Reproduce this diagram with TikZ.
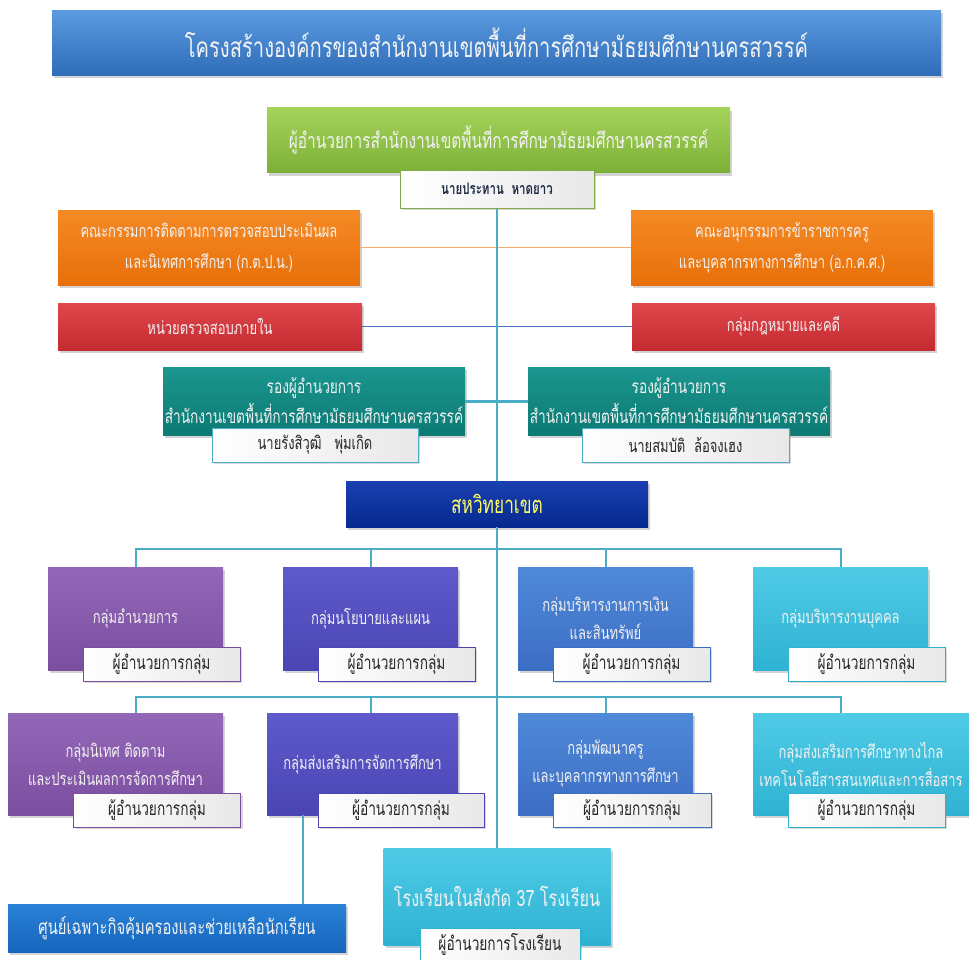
\documentclass[tikz,border=0pt]{standalone}
\usepackage{fontspec}
\usetikzlibrary{shadows}
\newfontfamily\thai[Script=Thai,FakeStretch=0.72]{Loma}
\definecolor{titleA}{HTML}{5B9BE0}\definecolor{titleB}{HTML}{2F6DB8}
\definecolor{greenA}{HTML}{A5D35A}\definecolor{greenB}{HTML}{7DB038}
\definecolor{orangeA}{HTML}{F58A25}\definecolor{orangeB}{HTML}{E8700A}
\definecolor{redA}{HTML}{E0474D}\definecolor{redB}{HTML}{C32B31}
\definecolor{tealA}{HTML}{1A968E}\definecolor{tealB}{HTML}{0D7A74}
\definecolor{navyA}{HTML}{1A3FB0}\definecolor{navyB}{HTML}{062A8F}
\definecolor{purpA}{HTML}{9468B8}\definecolor{purpB}{HTML}{7A4D9E}
\definecolor{indA}{HTML}{5E5ACB}\definecolor{indB}{HTML}{4A45B3}
\definecolor{bluA}{HTML}{5089D8}\definecolor{bluB}{HTML}{3C6EC4}
\definecolor{cyanA}{HTML}{4FCBE6}\definecolor{cyanB}{HTML}{2FB2D2}
\definecolor{deepA}{HTML}{2A82D6}\definecolor{deepB}{HTML}{1565BD}
\definecolor{linkc}{HTML}{4BACC6}
\definecolor{namec}{HTML}{1F2A44}

\begin{document}
\begin{tikzpicture}[x=1pt,y=-1pt]
    \tikzstyle{box}=[rectangle, inner sep=0pt, align=center, text=white!95!black,
                     drop shadow={shadow xshift=2pt, shadow yshift=-3pt, opacity=.35}]
    \tikzstyle{sub}=[rectangle, draw, line width=1pt, inner sep=0pt, align=center,
                     left color=white, right color=black!9, text=black!85,
                     minimum height=34, font=\thai\fontsize{19}{22}\selectfont,
                     drop shadow={shadow xshift=2pt, shadow yshift=-2pt, opacity=.3}]
    \tikzstyle{small}=[font=\thai\fontsize{18}{31}\selectfont]
    \tikzstyle{group}=[font=\thai\fontsize{18}{28}\selectfont]
    \tikzstyle{link}=[draw=linkc, line width=2pt]
    \useasboundingbox (0,0) rectangle (969,959);

    % top of the chart
    \node[box, top color=titleA, bottom color=titleB, minimum width=889, minimum height=65,
          font=\thai\fontsize{28}{32}\selectfont] (title) at (496.5,42.5)
          {โครงสร้างองค์กรของสำนักงานเขตพื้นที่การศึกษามัธยมศึกษานครสวรรค์};
    \node[box, top color=greenA, bottom color=greenB, minimum width=463, minimum height=65,
          font=\thai\fontsize{21.5}{24}\selectfont] (director) at (498.5,140)
          {ผู้อำนวยการสำนักงานเขตพื้นที่การศึกษามัธยมศึกษานครสวรรค์};
    \node[sub, draw=greenA!80!black, minimum width=194, minimum height=38, text=namec,
          font=\thai\bfseries\fontsize{16}{18}\selectfont] (dirname) at (497,189)
          {นายประทาน\ \ หาดยาว};

    % boards and units beside the director
    \node[box, small, top color=orangeA, bottom color=orangeB, minimum width=302, minimum height=75]
          (boardL) at (209,247.5) {คณะกรรมการติดตามการตรวจสอบประเมินผล\\และนิเทศการศึกษา (ก.ต.ป.น.)};
    \node[box, small, top color=orangeA, bottom color=orangeB, minimum width=302, minimum height=75]
          (boardR) at (782,247.5) {คณะอนุกรรมการข้าราชการครู\\และบุคลากรทางการศึกษา (อ.ก.ค.ศ.)};
    \node[box, small, top color=redA, bottom color=redB, minimum width=304, minimum height=47]
          (audit) at (210,326.5) {หน่วยตรวจสอบภายใน};
    \node[box, small, top color=redA, bottom color=redB, minimum width=303, minimum height=47]
          (legal) at (783.5,326.5) {กลุ่มกฎหมายและคดี};

    % deputies
    \node[box, top color=tealA, bottom color=tealB, minimum width=302, minimum height=68,
          font=\thai\fontsize{19}{30}\selectfont]
          (depL) at (314,401) {รองผู้อำนวยการ\\สำนักงานเขตพื้นที่การศึกษามัธยมศึกษานครสวรรค์};
    \node[box, top color=tealA, bottom color=tealB, minimum width=302, minimum height=68,
          font=\thai\fontsize{19}{30}\selectfont]
          (depR) at (679,401) {รองผู้อำนวยการ\\สำนักงานเขตพื้นที่การศึกษามัธยมศึกษานครสวรรค์};
    \node[sub, draw=linkc, minimum width=206, font=\thai\fontsize{18}{20}\selectfont]
          (nameL) at (315,445) {นายรังสิวุฒิ\ \ \ พุ่มเกิด};
    \node[sub, draw=linkc, minimum width=207, font=\thai\fontsize{18}{20}\selectfont]
          (nameR) at (685.5,445) {นายสมบัติ\ \ ล้อจงเฮง};

    \node[box, top color=navyA, bottom color=navyB, minimum width=302, minimum height=46,
          text={rgb,255:red,255;green,255;blue,102}, font=\thai\fontsize{24}{28}\selectfont]
          (cluster) at (497,504) {สหวิทยาเขต};

    % first row of groups
    \node[box, group, top color=purpA, bottom color=purpB, minimum width=175, minimum height=103]
          (r1a) at (135.5,618.5) {กลุ่มอำนวยการ};
    \node[box, group, top color=indA, bottom color=indB, minimum width=175, minimum height=103]
          (r1b) at (370.5,618.5) {กลุ่มนโยบายและแผน};
    \node[box, group, top color=bluA, bottom color=bluB, minimum width=175, minimum height=103]
          (r1c) at (605.5,618.5) {กลุ่มบริหารงานการเงิน\\และสินทรัพย์};
    \node[box, group, top color=cyanA, bottom color=cyanB, minimum width=175, minimum height=103]
          (r1d) at (840.5,618.5) {กลุ่มบริหารงานบุคคล};
    \node[sub, draw=purpB, minimum width=157] (s1a) at (161.5,664) {ผู้อำนวยการกลุ่ม};
    \node[sub, draw=indB, minimum width=157] (s1b) at (396.5,664) {ผู้อำนวยการกลุ่ม};
    \node[sub, draw=bluB, minimum width=157] (s1c) at (631.5,664) {ผู้อำนวยการกลุ่ม};
    \node[sub, draw=cyanB, minimum width=157] (s1d) at (866.5,664) {ผู้อำนวยการกลุ่ม};

    % second row of groups
    \node[box, group, top color=purpA, bottom color=purpB, minimum width=215, minimum height=102]
          (r2a) at (115.5,764) {กลุ่มนิเทศ ติดตาม\\และประเมินผลการจัดการศึกษา};
    \node[box, group, top color=indA, bottom color=indB, minimum width=191, minimum height=102]
          (r2b) at (362.5,764) {กลุ่มส่งเสริมการจัดการศึกษา};
    \node[box, group, top color=bluA, bottom color=bluB, minimum width=175, minimum height=102]
          (r2c) at (605.5,764) {กลุ่มพัฒนาครู\\และบุคลากรทางการศึกษา};
    \node[box, group, top color=cyanA, bottom color=cyanB, minimum width=216, minimum height=102]
          (r2d) at (861,764) {กลุ่มส่งเสริมการศึกษาทางไกล\\เทคโนโลยีสารสนเทศและการสื่อสาร};
    \node[sub, draw=purpB, minimum width=167] (s2a) at (157,810) {ผู้อำนวยการกลุ่ม};
    \node[sub, draw=indB, minimum width=166] (s2b) at (401,810) {ผู้อำนวยการกลุ่ม};
    \node[sub, draw=bluB, minimum width=158] (s2c) at (632,810) {ผู้อำนวยการกลุ่ม};
    \node[sub, draw=cyanB, minimum width=157] (s2d) at (866.5,810) {ผู้อำนวยการกลุ่ม};

    % bottom
    \node[box, top color=cyanA, bottom color=cyanB, minimum width=227, minimum height=97,
          font=\thai\fontsize{22.5}{26}\selectfont] (school) at (497,896.5) {โรงเรียนในสังกัด 37 โรงเรียน};
    \node[sub, draw=cyanB, minimum width=160, minimum height=32] (sschool) at (500,944)
          {ผู้อำนวยการโรงเรียน};
    \node[box, top color=deepA, bottom color=deepB, minimum width=338, minimum height=48,
          font=\thai\fontsize{20.5}{24}\selectfont] (centre) at (177,928)
          {ศูนย์เฉพาะกิจคุ้มครองและช่วยเหลือนักเรียน};

    % connectors
    \coordinate (bus1) at (497,549);
    \coordinate (bus2) at (497,697);
    \coordinate (tap) at (303,0);
    \draw[draw={rgb,255:red,247;green,170;blue,110}, line width=1.2pt] (boardL) -- (boardR);
    \draw[draw={rgb,255:red,68;green,114;blue,196}, line width=1.4pt] (audit) -- (legal);
    \draw[link, line width=3pt] (depL) -- (depR);
    \draw[link, line width=2.5pt] (dirname) -- (cluster);
    \draw[link, line width=2.5pt] (cluster) -- (school);
    \draw[link] (r1a) |- (bus1) -| (r1d);
    \draw[link] (r1b) -- (r1b |- bus1);
    \draw[link] (r1c) -- (r1c |- bus1);
    \draw[link] (r1a |- r2a.north) |- (bus2) -| (r1d |- r2d.north);
    \draw[link] (r1b |- r2b.north) -- (r1b |- bus2);
    \draw[link] (r1c |- r2c.north) -- (r1c |- bus2);
    \draw[link] (r2b.south -| tap) -- (centre.north -| tap);
\end{tikzpicture}
\end{document}
